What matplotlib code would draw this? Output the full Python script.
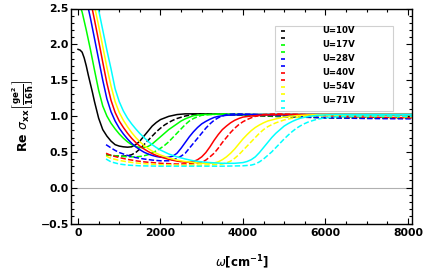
import numpy as np
import matplotlib
matplotlib.use('Agg')
import matplotlib.pyplot as plt
from matplotlib.ticker import MultipleLocator
from matplotlib.patches import Rectangle

plt.rcParams['font.family'] = ['DejaVu Sans']
plt.rcParams['mathtext.fontset'] = 'dejavusans'

labels = ['U=10V', 'U=17V', 'U=28V', 'U=40V', 'U=54V', 'U=71V']
colors = ['black', '#00ff00', '#0000ff', '#ff0000', '#ffff00', '#00ffff']

# solid curves
w_black_s = [0, 50, 100, 150, 200, 250, 300, 350, 400, 500, 600, 700, 800, 900, 1000, 1100, 1200, 1300, 1400,
             1500, 1600, 1700, 1800, 1900, 2000, 2200, 2400, 2600, 2800, 3000, 3500, 4000, 5000, 6000, 7000, 8100]
y_black_s = [1.93, 1.92, 1.89, 1.81, 1.70, 1.57, 1.45, 1.33, 1.20, 0.97, 0.81, 0.72, 0.65, 0.60, 0.58, 0.57, 0.565,
             0.57, 0.60, 0.65, 0.72, 0.79, 0.86, 0.91, 0.95, 0.995, 1.02, 1.03, 1.03, 1.03, 1.025, 1.02, 1.02, 1.02,
             1.02, 1.02]

w_green_s = [0, 100, 200, 300, 400, 500, 600, 700, 800, 900, 1000, 1100, 1200, 1300, 1400, 1500, 1600, 1700, 1800,
             1900, 2000, 2100, 2200, 2300, 2400, 2500, 2600, 2800, 3000, 3500, 4000, 5000, 8100]
y_green_s = [2.62, 2.45, 2.2, 1.93, 1.64, 1.36, 1.14, 1.0, 0.9, 0.82, 0.75, 0.69, 0.64, 0.60, 0.575, 0.56, 0.56,
             0.575, 0.61, 0.66, 0.71, 0.76, 0.81, 0.85, 0.89, 0.93, 0.96, 1.005, 1.02, 1.025, 1.02, 1.02, 1.02]

w_blue_s = [0, 100, 200, 300, 400, 500, 600, 700, 800, 900, 1000, 1100, 1200, 1300, 1400, 1500, 1600, 1700, 1800,
            1900, 2000, 2100, 2200, 2300, 2400, 2500, 2600, 2700, 2800, 2900, 3000, 3100, 3200, 3300, 3400, 3600,
            4000, 5000, 8100]
y_blue_s = [3.0, 2.85, 2.63, 2.37, 2.08, 1.79, 1.5, 1.24, 1.06, 0.93, 0.83, 0.75, 0.68, 0.62, 0.57, 0.53, 0.495,
            0.47, 0.45, 0.435, 0.425, 0.42, 0.425, 0.44, 0.48, 0.55, 0.63, 0.71, 0.78, 0.84, 0.89, 0.925, 0.955,
            0.98, 0.995, 1.01, 1.02, 1.02, 1.02]

w_red_s = [0, 100, 200, 300, 400, 500, 600, 700, 800, 900, 1000, 1100, 1200, 1300, 1400, 1500, 1600, 1700, 1800,
           1900, 2000, 2200, 2400, 2600, 2700, 2800, 2900, 3000, 3100, 3200, 3300, 3400, 3500, 3600, 3700, 3800,
           3900, 4000, 4200, 4500, 5000, 8100]
y_red_s = [3.25, 3.1, 2.88, 2.62, 2.34, 2.05, 1.75, 1.46, 1.22, 1.05, 0.93, 0.84, 0.76, 0.69, 0.63, 0.58, 0.54,
           0.505, 0.475, 0.45, 0.43, 0.395, 0.37, 0.355, 0.355, 0.365, 0.39, 0.43, 0.49, 0.57, 0.66, 0.74, 0.81,
           0.86, 0.905, 0.94, 0.965, 0.985, 1.0, 1.015, 1.02, 1.02]

w_yellow_s = [0, 200, 300, 400, 500, 600, 700, 800, 900, 1000, 1100, 1200, 1300, 1400, 1500, 1600, 1700, 1800, 1900,
              2000, 2200, 2400, 2600, 2800, 3000, 3200, 3300, 3400, 3500, 3600, 3700, 3800, 3900, 4000, 4100, 4200,
              4300, 4400, 4500, 4600, 4800, 5000, 5300, 5600, 6000, 8100]
y_yellow_s = [3.35, 3.0, 2.77, 2.53, 2.26, 1.97, 1.68, 1.42, 1.2, 1.05, 0.94, 0.85, 0.77, 0.70, 0.64, 0.59, 0.545,
              0.51, 0.48, 0.455, 0.415, 0.385, 0.365, 0.35, 0.34, 0.34, 0.345, 0.36, 0.39, 0.43, 0.48, 0.54, 0.61,
              0.68, 0.74, 0.795, 0.84, 0.875, 0.905, 0.93, 0.96, 0.985, 1.005, 1.015, 1.02, 1.02]

w_cyan_s = [0, 200, 300, 400, 500, 600, 700, 800, 900, 1000, 1100, 1200, 1300, 1400, 1500, 1600, 1700, 1800, 1900,
            2000, 2200, 2400, 2600, 2800, 3000, 3200, 3500, 3800, 4000, 4100, 4200, 4300, 4400, 4500, 4600, 4700,
            4800, 4900, 5000, 5100, 5200, 5300, 5400, 5600, 5800, 6200, 8100]
y_cyan_s = [3.45, 3.15, 2.95, 2.73, 2.48, 2.2, 1.92, 1.66, 1.38, 1.2, 1.07, 0.97, 0.89, 0.82, 0.755, 0.70, 0.645,
            0.60, 0.56, 0.525, 0.47, 0.43, 0.40, 0.375, 0.36, 0.35, 0.34, 0.34, 0.35, 0.365, 0.39, 0.43, 0.49, 0.56,
            0.63, 0.70, 0.76, 0.81, 0.86, 0.895, 0.925, 0.95, 0.97, 0.995, 1.01, 1.02, 1.02]

# dashed curves
w_black_d = [680, 800, 900, 1000, 1100, 1200, 1300, 1400, 1500, 1600, 1700, 1800, 1900, 2000, 2100, 2200, 2300,
             2400, 2600, 2800, 3000, 3300, 3600, 4000, 5000, 6000, 7000, 8100]
y_black_d = [0.46, 0.45, 0.445, 0.44, 0.44, 0.445, 0.46, 0.49, 0.54, 0.60, 0.66, 0.72, 0.78, 0.83, 0.875, 0.91,
             0.94, 0.965, 1.0, 1.02, 1.03, 1.03, 1.02, 1.01, 0.99, 0.975, 0.97, 0.97]

w_green_d = [680, 800, 1000, 1200, 1400, 1500, 1600, 1700, 1800, 1900, 2000, 2100, 2200, 2300, 2400, 2500, 2600,
             2700, 2800, 2900, 3000, 3200, 3500, 4000, 5000, 6000, 7000, 8100]
y_green_d = [0.46, 0.45, 0.44, 0.43, 0.43, 0.435, 0.445, 0.46, 0.485, 0.515, 0.55, 0.59, 0.64, 0.70, 0.76, 0.82,
             0.88, 0.93, 0.965, 0.99, 1.01, 1.02, 1.03, 1.02, 0.995, 0.98, 0.975, 0.97]

w_blue_d = [680, 800, 900, 1000, 1200, 1400, 1600, 1800, 2000, 2200, 2300, 2400, 2500, 2600, 2700, 2800, 2900,
            3000, 3100, 3200, 3300, 3400, 3500, 3600, 3800, 4200, 5000, 6000, 7000, 8100]
y_blue_d = [0.60, 0.555, 0.52, 0.49, 0.45, 0.42, 0.40, 0.385, 0.375, 0.375, 0.385, 0.41, 0.44, 0.48, 0.55, 0.62,
            0.69, 0.76, 0.83, 0.89, 0.94, 0.975, 1.0, 1.02, 1.03, 1.025, 1.0, 0.975, 0.965, 0.96]

w_red_d = [680, 800, 1000, 1200, 1400, 1600, 1800, 2000, 2400, 2800, 3000, 3100, 3200, 3300, 3400, 3500, 3600,
           3700, 3800, 3900, 4000, 4100, 4200, 4300, 4500, 4800, 5500, 6500, 8100]
y_red_d = [0.48, 0.45, 0.42, 0.395, 0.375, 0.36, 0.35, 0.34, 0.33, 0.335, 0.355, 0.385, 0.43, 0.48, 0.55, 0.63,
           0.70, 0.77, 0.83, 0.88, 0.92, 0.95, 0.975, 0.995, 1.02, 1.03, 1.02, 0.99, 0.975]

w_yellow_d = [680, 800, 1000, 1200, 1400, 1600, 2000, 2500, 3000, 3300, 3500, 3600, 3700, 3800, 3900, 4000, 4100,
              4200, 4300, 4400, 4500, 4600, 4700, 4800, 5000, 5200, 5400, 5700, 6200, 7000, 8100]
y_yellow_d = [0.44, 0.41, 0.38, 0.36, 0.345, 0.335, 0.32, 0.315, 0.315, 0.32, 0.33, 0.345, 0.37, 0.41, 0.46, 0.52,
              0.58, 0.64, 0.70, 0.76, 0.81, 0.85, 0.88, 0.905, 0.945, 0.97, 0.99, 1.005, 1.01, 1.0, 0.99]

w_cyan_d = [680, 800, 1000, 1200, 1500, 2000, 3000, 3500, 4000, 4200, 4300, 4400, 4500, 4600, 4700, 4800, 4900,
            5000, 5100, 5200, 5300, 5400, 5500, 5600, 5800, 6000, 6300, 6700, 7400, 8100]
y_cyan_d = [0.40, 0.36, 0.33, 0.315, 0.305, 0.30, 0.30, 0.30, 0.305, 0.315, 0.33, 0.36, 0.40, 0.45, 0.50, 0.56,
            0.62, 0.68, 0.735, 0.785, 0.83, 0.865, 0.895, 0.92, 0.955, 0.975, 0.99, 1.0, 1.0, 0.995]

solid = [(w_black_s, y_black_s), (w_green_s, y_green_s), (w_blue_s, y_blue_s),
         (w_red_s, y_red_s), (w_yellow_s, y_yellow_s), (w_cyan_s, y_cyan_s)]
dashed = [(w_black_d, y_black_d), (w_green_d, y_green_d), (w_blue_d, y_blue_d),
          (w_red_d, y_red_d), (w_yellow_d, y_yellow_d), (w_cyan_d, y_cyan_d)]

fig = plt.figure(figsize=(4.36, 2.73), dpi=100)
ax = fig.add_axes([71/436, 1 - 223.5/273, 341/436, 215/273])

ax.axhline(0, color='#b0b0b0', lw=0.8, zorder=1)

for (ws, ys), (wd, yd), c in zip(solid, dashed, colors):
    ax.plot(ws, ys, color=c, lw=1.1, zorder=2)
    ax.plot(wd, yd, color=c, lw=1.1, dashes=(3.5, 1.5), zorder=2)

ax.set_xlim(-170, 8100)
ax.set_ylim(-0.5, 2.5)
ax.xaxis.set_major_locator(MultipleLocator(2000))
ax.xaxis.set_minor_locator(MultipleLocator(500))
ax.yaxis.set_major_locator(MultipleLocator(0.5))
ax.yaxis.set_minor_locator(MultipleLocator(0.1))
ax.tick_params(which='both', direction='in', top=True, right=True, width=0.8)
ax.tick_params(which='major', length=4.5)
ax.tick_params(which='minor', length=2.2)
ax.tick_params(axis='y', pad=1.5)
ax.tick_params(axis='x', pad=3)
for lab in ax.get_xticklabels() + ax.get_yticklabels():
    lab.set_fontsize(7.8)
    lab.set_fontweight('bold')
for sp in ax.spines.values():
    sp.set_linewidth(1.0)

ax.set_xlabel(r'$\omega$[$\mathbf{cm^{-1}}$]', fontsize=8.5, fontweight='bold', labelpad=11)
ax.set_ylabel(r'Re $\sigma_{\mathbf{xx}}\left[\frac{\mathbf{ge^2}}{\mathbf{16\hbar}}\right]$',
              fontsize=9, fontweight='bold', labelpad=4)

# legend box in Mathematica style
x0, x1 = (275 - 71) / 341, (393 - 71) / 341
y0, y1 = (223.5 - 111) / 215, (223.5 - 26) / 215
ax.add_patch(Rectangle((x0, y0), x1 - x0, y1 - y0, transform=ax.transAxes,
                       facecolor='white', edgecolor='#d0d0d0', lw=0.8, zorder=5))
hx = (283 - 71) / 341
tx = (322 - 71) / 341
for i, (lab, c) in enumerate(zip(labels, colors)):
    ty = (223.5 - 30.7 - 14 * i) / 215
    for dy in (0, -7 / 215):
        ax.plot([hx - 0.006, hx + 0.006], [ty + dy, ty + dy], color=c, lw=1.2,
                transform=ax.transAxes, zorder=6, solid_capstyle='butt')
    ax.text(tx, ty, lab, transform=ax.transAxes, fontsize=6.2, fontweight='bold',
            va='center', ha='left', zorder=6)

fig.savefig('out.png', dpi=100)
